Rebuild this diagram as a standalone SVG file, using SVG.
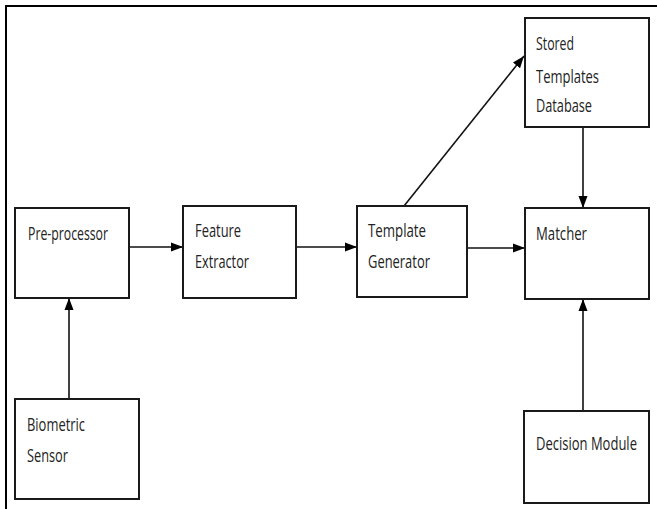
<svg xmlns="http://www.w3.org/2000/svg" width="657" height="509" viewBox="0 0 657 509">
<style>
.box{fill:#fff;stroke:#1a1a1a;stroke-width:2}
.lbl{font-family:"Open Sans","Liberation Sans",sans-serif;font-size:19px;fill:#222}
.edge{stroke:#111;stroke-width:1.6;fill:none}
.frame{stroke:#000;stroke-width:2;fill:none}
</style>
<defs>
<marker id="ah" markerUnits="userSpaceOnUse" markerWidth="12" markerHeight="12" viewBox="0 0 12 12" refX="12" refY="6" orient="auto">
<path d="M0,1.5 L12,6 L0,10.5 Z" fill="#000"/>
</marker>
</defs>
<rect width="657" height="509" fill="#fff"/>
<path class="frame" d="M6,509 V6 H657"/>
<g id="connectors">
<line class="edge" x1="129" y1="247" x2="183" y2="247" marker-end="url(#ah)"/>
<line class="edge" x1="296" y1="247" x2="357" y2="247" marker-end="url(#ah)"/>
<line class="edge" x1="467" y1="248" x2="525" y2="248" marker-end="url(#ah)"/>
<line class="edge" x1="404" y1="206" x2="524" y2="56" marker-end="url(#ah)"/>
<line class="edge" x1="583" y1="127" x2="583" y2="208" marker-end="url(#ah)"/>
<line class="edge" x1="583" y1="411" x2="583" y2="299" marker-end="url(#ah)"/>
<line class="edge" x1="69" y1="399" x2="69" y2="298" marker-end="url(#ah)"/>
</g>
<g id="preprocessor">
<rect class="box" x="15" y="208" width="114" height="90"/>
<text class="lbl" transform="translate(28,240) scale(0.67,1)" textLength="119.4" lengthAdjust="spacingAndGlyphs">Pre-processor</text>
</g>
<g id="feature-extractor">
<rect class="box" x="183" y="206" width="113" height="92"/>
<text class="lbl" transform="translate(195,237) scale(0.67,1)" textLength="68.7" lengthAdjust="spacingAndGlyphs">Feature</text>
<text class="lbl" transform="translate(195,268) scale(0.67,1)" textLength="80.6" lengthAdjust="spacingAndGlyphs">Extractor</text>
</g>
<g id="template-generator">
<rect class="box" x="357" y="206" width="110" height="91"/>
<text class="lbl" transform="translate(368,237) scale(0.67,1)" textLength="86.6" lengthAdjust="spacingAndGlyphs">Template</text>
<text class="lbl" transform="translate(368,268) scale(0.67,1)" textLength="92.5" lengthAdjust="spacingAndGlyphs">Generator</text>
</g>
<g id="matcher">
<rect class="box" x="525" y="208" width="124" height="91"/>
<text class="lbl" transform="translate(536,240) scale(0.67,1)" textLength="76.1" lengthAdjust="spacingAndGlyphs">Matcher</text>
</g>
<g id="stored-templates-database">
<rect class="box" x="525" y="18" width="124" height="109"/>
<text class="lbl" transform="translate(536,50) scale(0.67,1)" textLength="56.7" lengthAdjust="spacingAndGlyphs">Stored</text>
<text class="lbl" transform="translate(536,83) scale(0.67,1)" textLength="94" lengthAdjust="spacingAndGlyphs">Templates</text>
<text class="lbl" transform="translate(536,112) scale(0.67,1)" textLength="83.6" lengthAdjust="spacingAndGlyphs">Database</text>
</g>
<g id="biometric-sensor">
<rect class="box" x="15" y="399" width="124" height="100"/>
<text class="lbl" transform="translate(27,431) scale(0.67,1)" textLength="86.6" lengthAdjust="spacingAndGlyphs">Biometric</text>
<text class="lbl" transform="translate(27,462) scale(0.67,1)" textLength="61.2" lengthAdjust="spacingAndGlyphs">Sensor</text>
</g>
<g id="decision-module">
<rect class="box" x="524" y="411" width="125" height="92"/>
<text class="lbl" transform="translate(536,450) scale(0.67,1)" textLength="150.7" lengthAdjust="spacingAndGlyphs">Decision Module</text>
</g>
</svg>
